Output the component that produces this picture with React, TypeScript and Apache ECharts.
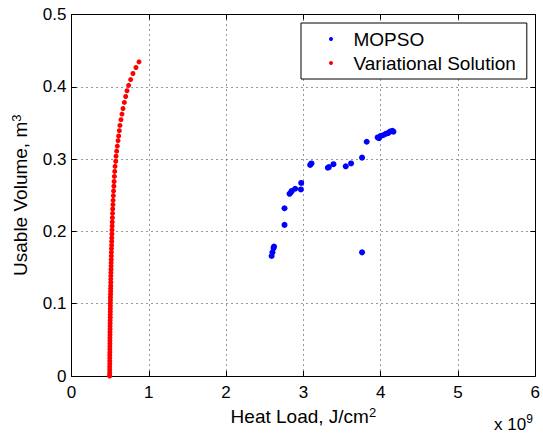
import React, { useEffect, useRef } from "react";
import * as echarts from "echarts";

const xTicks = [0, 1, 2, 3, 4, 5, 6];
const yTicks = [0, 0.1, 0.2, 0.3, 0.4, 0.5];

const mopsoX = [2.589, 2.6, 2.614, 2.62, 2.756, 2.756, 2.821, 2.838, 2.85, 2.894, 2.968, 2.972, 3.088, 3.105, 3.316, 3.33, 3.389, 3.548, 3.617, 3.759, 3.759, 3.819, 3.961, 3.978, 4.0, 4.03, 4.065, 4.095, 4.12, 4.15, 4.165];
const mopsoY = [0.166, 0.171, 0.177, 0.179, 0.209, 0.232, 0.252, 0.254, 0.256, 0.259, 0.258, 0.267, 0.292, 0.294, 0.288, 0.289, 0.293, 0.29, 0.294, 0.302, 0.171, 0.324, 0.33, 0.329, 0.332, 0.333, 0.335, 0.336, 0.338, 0.339, 0.338];

const varX = [0.873, 0.834, 0.795, 0.765, 0.739, 0.718, 0.701, 0.684, 0.666, 0.653, 0.64, 0.627, 0.619, 0.61, 0.602, 0.593, 0.584, 0.576, 0.572, 0.563, 0.559, 0.555, 0.551, 0.548, 0.544, 0.541, 0.538, 0.536, 0.533, 0.531, 0.529, 0.527, 0.526, 0.524, 0.523, 0.521, 0.52, 0.519, 0.517, 0.516, 0.515, 0.514, 0.513, 0.512, 0.511, 0.51, 0.509, 0.508, 0.508, 0.507, 0.506, 0.506, 0.505, 0.504, 0.504, 0.503, 0.503, 0.502, 0.502, 0.501, 0.501, 0.5, 0.5, 0.499, 0.499, 0.498, 0.498, 0.497, 0.497, 0.497, 0.496, 0.496, 0.496, 0.495, 0.495, 0.495, 0.495, 0.494, 0.494, 0.494, 0.494, 0.494];
const varY = [0.4345, 0.4267, 0.4184, 0.41, 0.402, 0.3945, 0.3866, 0.3784, 0.37, 0.3623, 0.3545, 0.3466, 0.3393, 0.332, 0.3255, 0.318, 0.311, 0.304, 0.297, 0.29, 0.283, 0.276, 0.269, 0.2625, 0.256, 0.2495, 0.243, 0.237, 0.231, 0.225, 0.219, 0.213, 0.2075, 0.202, 0.1965, 0.191, 0.186, 0.181, 0.176, 0.171, 0.166, 0.161, 0.1565, 0.152, 0.1475, 0.143, 0.1385, 0.134, 0.1295, 0.125, 0.121, 0.117, 0.113, 0.109, 0.105, 0.101, 0.097, 0.093, 0.089, 0.085, 0.081, 0.077, 0.073, 0.069, 0.065, 0.061, 0.057, 0.053, 0.049, 0.045, 0.041, 0.037, 0.033, 0.029, 0.025, 0.021, 0.017, 0.013, 0.009, 0.005, 0.001, 0.0];

const FONT = "'Liberation Sans', Arial, Helvetica, sans-serif";

export default function App() {
  const ref = useRef<HTMLDivElement>(null);
  useEffect(() => {
    if (!ref.current) return;
    const chart = echarts.init(ref.current, null, { renderer: "svg" });
    const mopso = mopsoX.map((x, i) => [x, mopsoY[i]]);
    const variational = varX.map((x, i) => [x, varY[i]]);
    const gridLine = { show: true, lineStyle: { color: "#333", width: 1, type: [1, 4] as any } };
    const axisLine = { show: true, onZero: false, lineStyle: { color: "#000", width: 1 } };
    const tick = { show: true, inside: true, length: 5, lineStyle: { color: "#000" } };
    const supRich = {
      sup: { fontFamily: FONT, fontSize: 13, verticalAlign: "top", lineHeight: 13, color: "#000" },
    };
    chart.setOption({
      animation: false,
      backgroundColor: "#fff",
      textStyle: { fontFamily: FONT },
      grid: { left: 71.5, top: 14.5, width: 465, height: 361.5, containLabel: false },
      legend: {
        orient: "vertical",
        left: 301,
        top: 23,
        backgroundColor: "#fff",
        borderColor: "#000",
        borderWidth: 1,
        borderRadius: 0,
        padding: [6, 11, 6, 28],
        itemWidth: 35,
        itemHeight: 4,
        itemGap: 4,
        icon: "circle",
        itemStyle: { opacity: 1 },
        textStyle: { fontFamily: FONT, fontSize: 19, color: "#000", lineHeight: 20 },
        data: ["MOPSO", "Variational Solution"],
      },
      xAxis: [
        {
          type: "value",
          min: xTicks[0],
          max: xTicks[xTicks.length - 1],
          interval: 1,
          position: "bottom",
          name: "Heat Load, J/cm{sup|2}",
          nameLocation: "middle",
          nameGap: 24,
          nameTextStyle: { fontFamily: FONT, fontSize: 19, color: "#000", lineHeight: 22, rich: supRich },
          axisLine,
          axisTick: tick,
          axisLabel: { fontFamily: FONT, fontSize: 17, color: "#000", margin: 8 },
          splitLine: gridLine,
        },
        {
          type: "value",
          min: xTicks[0],
          max: xTicks[xTicks.length - 1],
          interval: 1,
          position: "top",
          axisLine,
          axisTick: tick,
          axisLabel: { show: false },
          splitLine: { show: false },
        },
      ],
      yAxis: [
        {
          type: "value",
          min: yTicks[0],
          max: yTicks[yTicks.length - 1],
          interval: 0.1,
          position: "left",
          name: "Usable Volume, m{sup|3}",
          nameLocation: "middle",
          nameGap: 35,
          nameTextStyle: { fontFamily: FONT, fontSize: 19, color: "#000", lineHeight: 22, rich: supRich },
          axisLine,
          axisTick: tick,
          axisLabel: {
            fontFamily: FONT,
            fontSize: 17,
            color: "#000",
            margin: 5,
            formatter: (v: number) => (v === 0 ? "0" : v.toFixed(1)),
          },
          splitLine: gridLine,
        },
        {
          type: "value",
          min: yTicks[0],
          max: yTicks[yTicks.length - 1],
          interval: 0.1,
          position: "right",
          axisLine,
          axisTick: tick,
          axisLabel: { show: false },
          splitLine: { show: false },
        },
      ],
      graphic: [
        {
          type: "text",
          left: 494,
          top: 413,
          style: {
            text: "x 10{sup|9}",
            fontFamily: FONT,
            fontSize: 17,
            lineHeight: 22,
            fill: "#000",
            verticalAlign: "top",
            rich: {
              sup: { fontFamily: FONT, fontSize: 12, verticalAlign: "top", lineHeight: 12, fill: "#000" },
            },
          },
        },
      ],
      series: [
        {
          name: "MOPSO",
          type: "scatter",
          data: mopso,
          symbol: "circle",
          symbolSize: 6,
          itemStyle: { color: "#0000ff", opacity: 1 },
        },
        {
          name: "Variational Solution",
          type: "scatter",
          data: variational,
          symbol: "circle",
          symbolSize: 5,
          itemStyle: { color: "#ff0000", opacity: 1 },
        },
      ],
    });
    return () => chart.dispose();
  }, []);
  return (
    <div
      ref={ref}
      style={{ position: "fixed", left: 0, top: 0, width: 543, height: 433, background: "#fff" }}
    />
  );
}
